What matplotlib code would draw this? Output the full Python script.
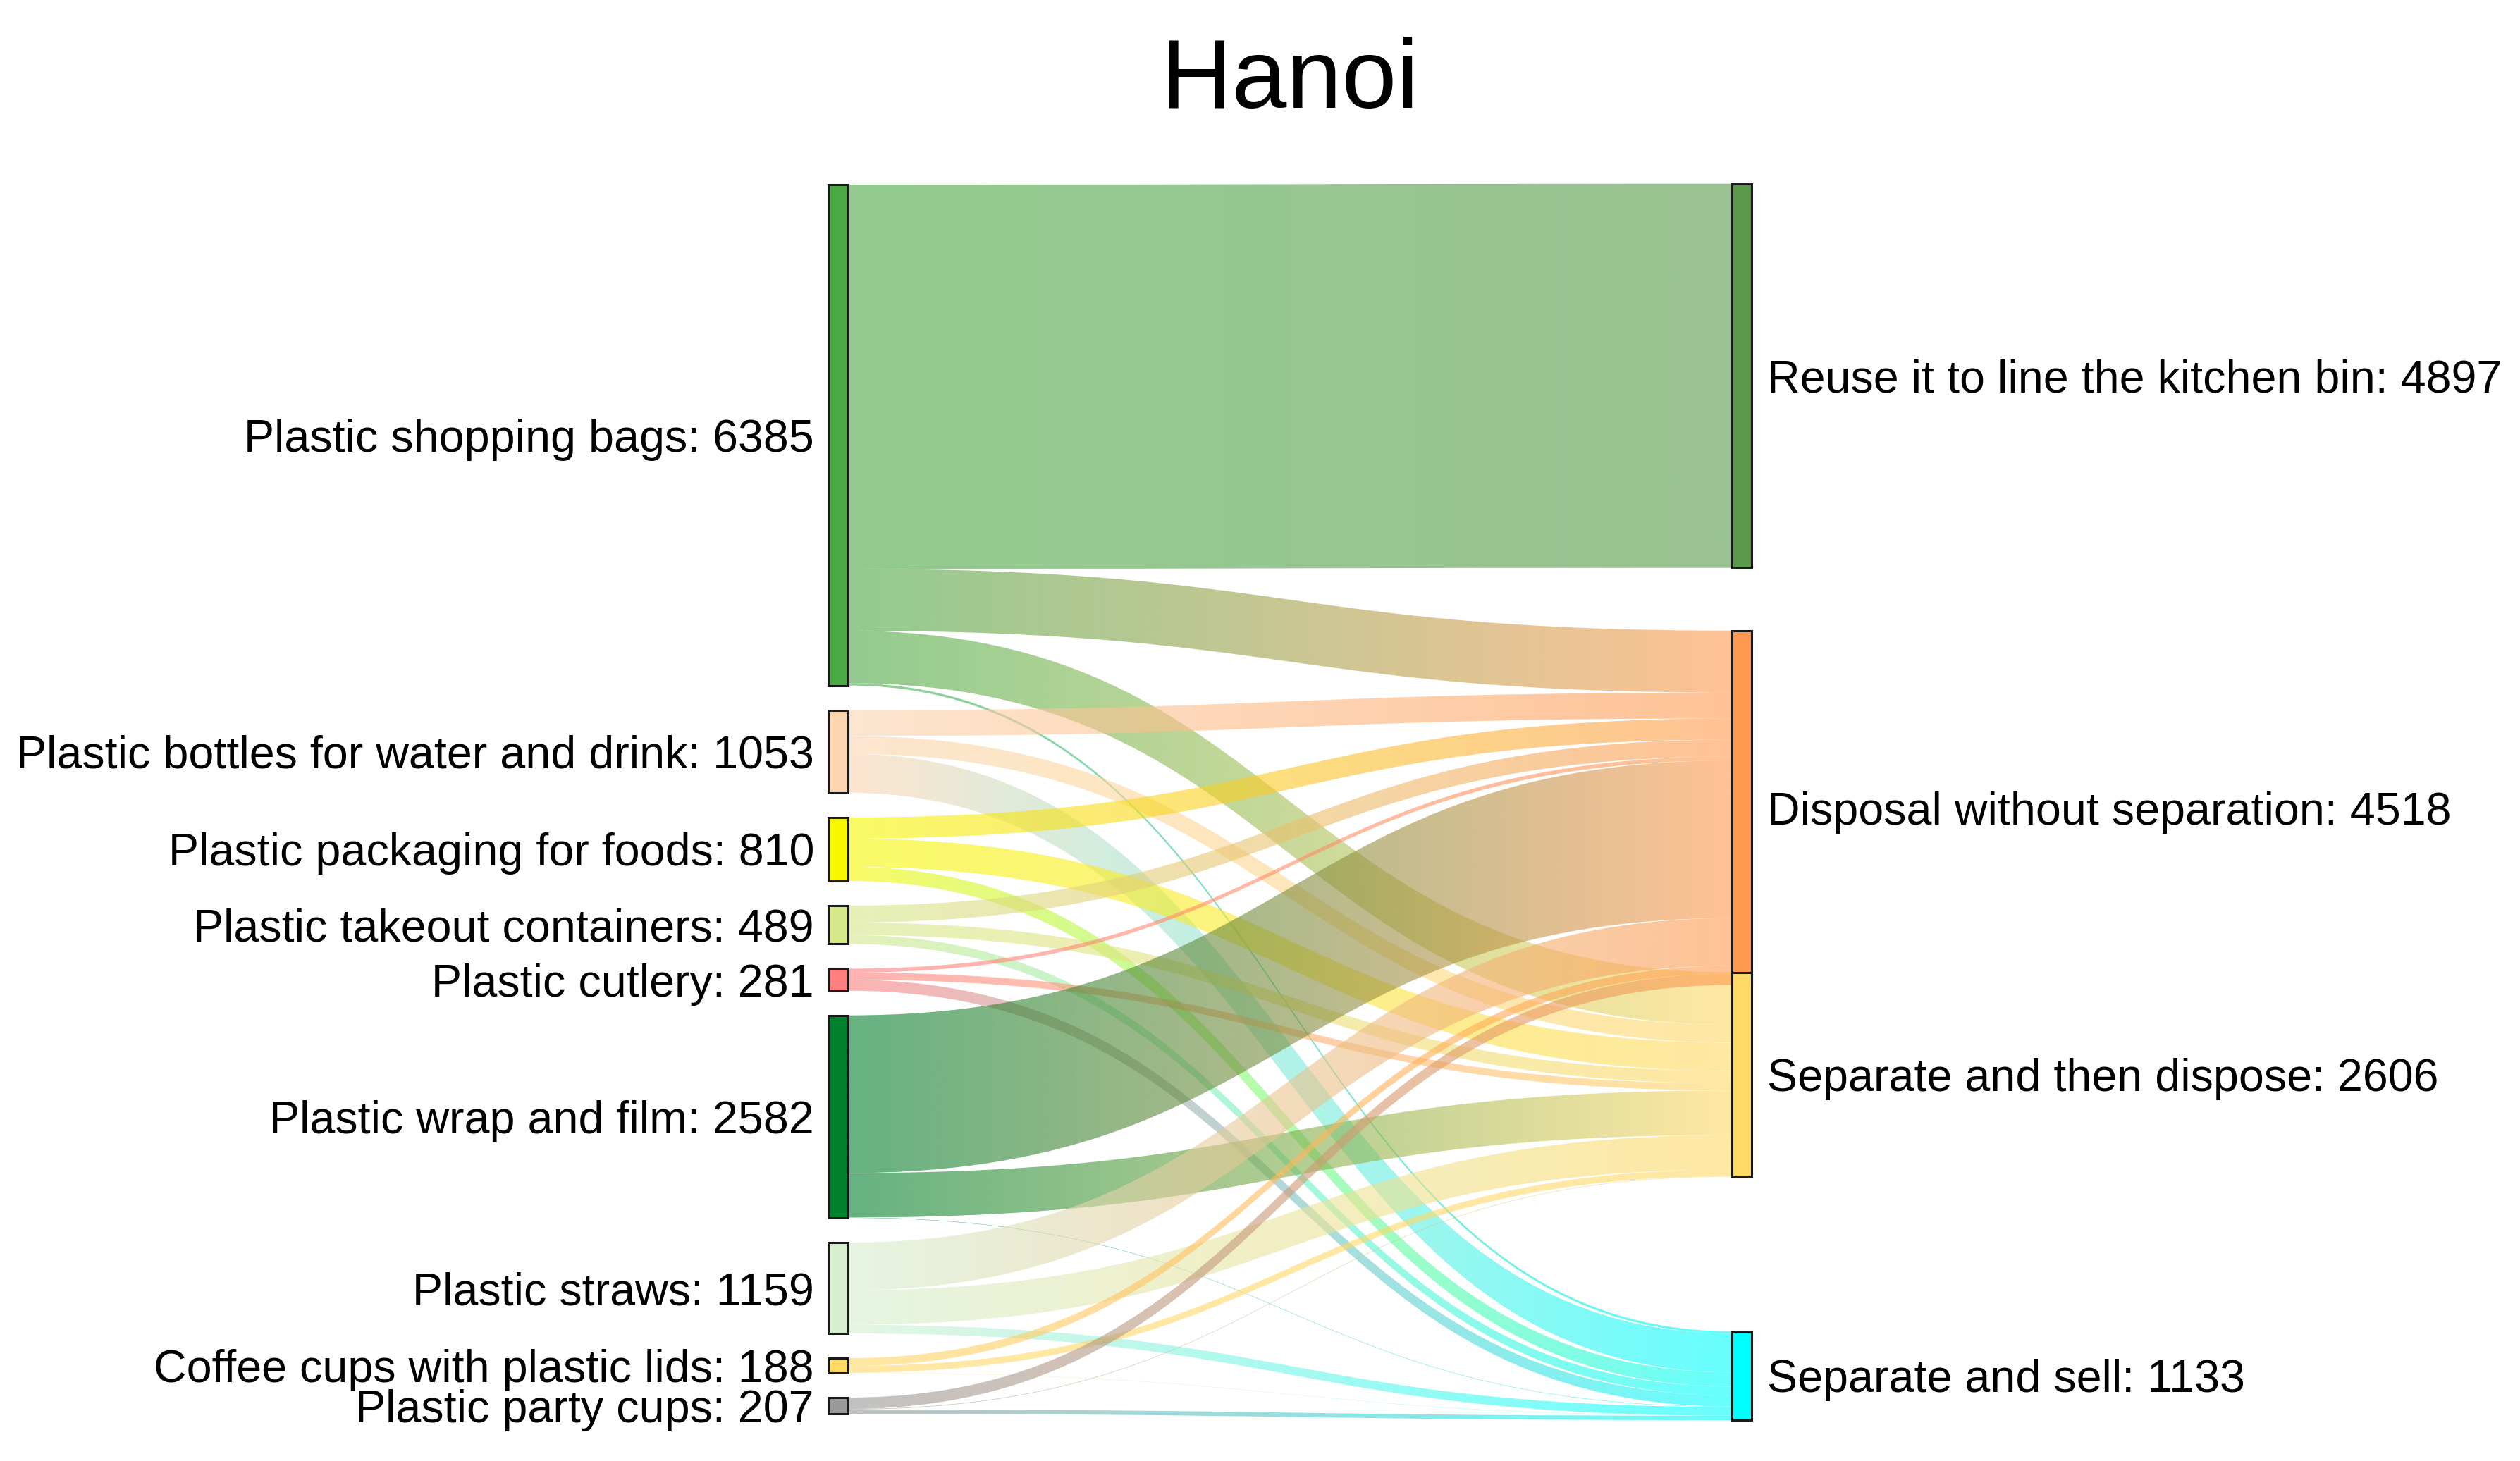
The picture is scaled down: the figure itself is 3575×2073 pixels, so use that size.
import matplotlib
matplotlib.use("Agg")
import matplotlib.pyplot as plt
import numpy as np
from matplotlib.path import Path
from matplotlib.patches import PathPatch, Rectangle
from matplotlib.colors import to_rgb

title = "Hanoi"

sources = ["Plastic shopping bags", "Plastic bottles for water and drink",
           "Plastic packaging for foods", "Plastic takeout containers",
           "Plastic cutlery", "Plastic wrap and film", "Plastic straws",
           "Coffee cups with plastic lids", "Plastic party cups"]
targets = ["Reuse it to line the kitchen bin", "Disposal without separation",
           "Separate and then dispose", "Separate and sell"]

# flow from every source (same order as `sources`) into each target
to_reuse = [4897, 0, 0, 0, 0, 0, 0, 0, 0]
to_disposal = [790, 330, 270, 215, 50, 2010, 608, 100, 145]
to_separate = [668, 228, 360, 159, 91, 567, 441, 85, 7]
to_sell = [30, 495, 180, 115, 140, 5, 110, 3, 55]

source_colors = ["#4aa845", "#fdd5b1", "#f7f700", "#d5e88a", "#ff7f7f",
                 "#007f2c", "#d6efcf", "#ffd966", "#999999"]
target_colors = ["#5a9a4a", "#ff9a50", "#ffd966", "#00ffff"]

# target node centres as a fraction of the plot height (like plotly node.y)
target_y = [0.1555, 0.507, 0.724, 0.969]


def bezier_band(x0, x1, a0, a1, b0, b1):
    """Band from [a0, a1] on the left to [b0, b1] on the right."""
    xm = (x0 + x1) / 2
    verts = [(x0, a0), (xm, a0), (xm, b0), (x1, b0),
             (x1, b1), (xm, b1), (xm, a1), (x0, a1), (x0, a0)]
    codes = [Path.MOVETO, Path.CURVE4, Path.CURVE4, Path.CURVE4,
             Path.LINETO, Path.CURVE4, Path.CURVE4, Path.CURVE4, Path.CLOSEPOLY]
    return Path(verts, codes)


def plot_sankey():
    flows = np.array([to_reuse, to_disposal, to_separate, to_sell]).T  # (source, target)
    src_tot = flows.sum(axis=1)
    tgt_tot = flows.sum(axis=0)

    W, H = 3575, 2073
    fig = plt.figure(figsize=(W / 100, H / 100), dpi=100)
    ax = fig.add_axes([0, 0, 1, 1])
    ax.set_xlim(0, W)
    ax.set_ylim(H, 0)
    ax.axis("off")

    top, bottom = 262, 2006
    pad = 35
    node_w = 28
    xl, xr = 1175, 2457
    k = (bottom - top - pad * (len(sources) - 1)) / src_tot.sum()

    # left nodes stacked from the top
    src_top = top + np.concatenate([[0], np.cumsum(src_tot * k + pad)[:-1]])
    # right nodes placed by their centres
    tgt_top = top + np.array(target_y) * (bottom - top) - tgt_tot * k / 2

    x0, x1 = xl + node_w, xr
    grad_t = np.linspace(0, 1, 256)
    s_cur = src_top.copy()
    t_cur = tgt_top.copy()
    for i in range(len(sources)):
        for j in range(len(targets)):
            v = flows[i, j]
            if v <= 0:
                continue
            h = v * k
            a0, a1 = s_cur[i], s_cur[i] + h
            b0, b1 = t_cur[j], t_cur[j] + h
            s_cur[i] += h
            t_cur[j] += h
            path = bezier_band(x0, x1, a0, a1, b0, b1)
            patch = PathPatch(path, facecolor="none", edgecolor="none")
            ax.add_patch(patch)
            c0, c1 = np.array(to_rgb(source_colors[i])), np.array(to_rgb(target_colors[j]))
            rgb = (1 - grad_t)[:, None] * c0 + grad_t[:, None] * c1
            img = np.dstack([rgb[None, :, 0], rgb[None, :, 1], rgb[None, :, 2],
                             np.full((1, 256), 0.6)])
            ylo, yhi = min(a0, b0), max(a1, b1)
            im = ax.imshow(img, extent=(x0, x1, yhi, ylo), aspect="auto",
                           interpolation="bilinear", zorder=1)
            im.set_clip_path(patch)

    font = "Liberation Sans"
    for i, name in enumerate(sources):
        h = src_tot[i] * k
        ax.add_patch(Rectangle((xl, src_top[i]), node_w, h, facecolor=source_colors[i],
                               edgecolor="#1a1a1a", linewidth=2.2, zorder=3))
        ax.text(xl - 20, src_top[i] + h / 2, f"{name}: {src_tot[i]}", ha="right",
                va="center_baseline", fontsize=46.5, family=font, zorder=4)
    for j, name in enumerate(targets):
        h = tgt_tot[j] * k
        ax.add_patch(Rectangle((xr, tgt_top[j]), node_w, h, facecolor=target_colors[j],
                               edgecolor="#1a1a1a", linewidth=2.2, zorder=3 + j * 0.01))
        ax.text(xr + node_w + 22, tgt_top[j] + h / 2, f"{name}: {tgt_tot[j]}", ha="left",
                va="center_baseline", fontsize=46.5, family=font, zorder=4)

    ax.text((xl + xr + node_w) / 2, 153, title, ha="center", va="baseline",
            fontsize=101, family=font)

    fig.savefig("out.png", dpi=100, facecolor="white")


if __name__ == "__main__":
    plot_sankey()
